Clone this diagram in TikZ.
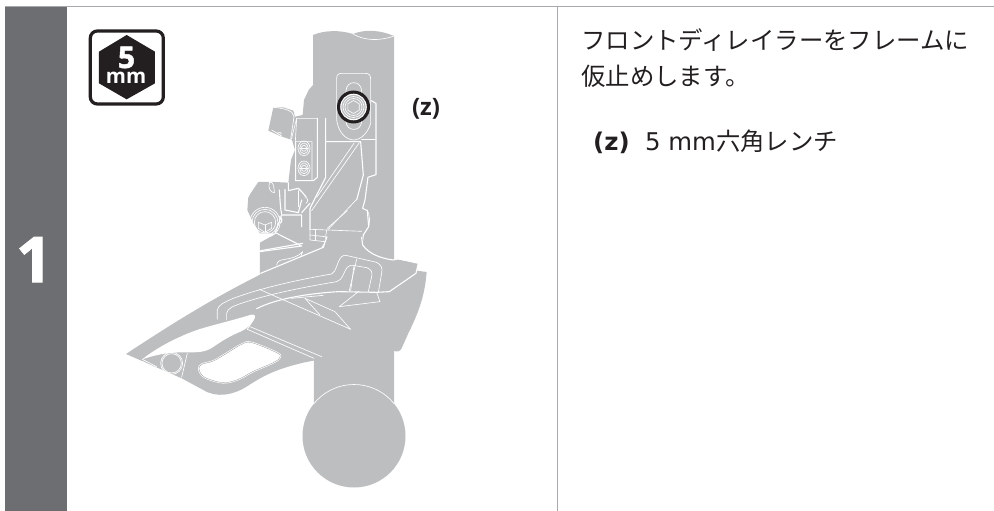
\documentclass[tikz,border=0pt]{standalone}
\usepackage{fontspec}
\setmainfont{DejaVu Sans}
\newfontfamily\cjkf{Noto Sans CJK JP}
\newfontfamily\labelf{Open Sans}
\newfontfamily\numf[BoldFeatures={FakeBold=1.6}]{Open Sans}
\definecolor{part}{HTML}{BCBEC0}
\definecolor{bar}{HTML}{6D6E71}
\definecolor{ink}{HTML}{231F20}
\definecolor{rule}{HTML}{A7A9AC}
\tikzset{
  px/.style={x=1pt,y=-1pt},
  hair/.style={draw=white,line width=0.65pt,line join=round,line cap=round},
  edge/.style={draw=white,line width=1.1pt,line join=round,line cap=round},
  body text/.style={anchor=base west,inner sep=0pt,text=ink,font=\fontsize{24.4}{28}\selectfont},
}
\begin{document}
\begin{tikzpicture}[px]
\useasboundingbox (0,0) rectangle (994,511);
% frame
\fill[bar] (5,7) rectangle (67,511);
\draw[rule,line width=1pt] (5,7) -- (994,7);
\draw[rule,line width=1pt] (557,7) -- (557,511);
\node[inner sep=0pt,anchor=base,text=white] (stepnum) at (34,282) {\fontsize{63}{63}\numf\bfseries 1};
% badge
\begin{scope}[scale=0.3333]
\draw[ink,line width=3.2pt,rounded corners=7pt,fill=white] (271,93) rectangle (490,312);
\fill[ink] (380,105) -- (465,155) -- (465,250) -- (380,298) -- (297,250) -- (297,155) -- cycle;
\end{scope}
\node[inner sep=0pt,anchor=base,text=white] (five) at (126.5,68) {\fontsize{30}{30}\numf\bfseries 5};
\node[inner sep=0pt,anchor=base,text=white] (mmunit) at (126,83.5) {\fontsize{20.5}{20.5}\labelf\bfseries mm};
% tube
\fill[part] (313,35) .. controls (325,30) and (340,30) .. (353,34) .. controls (365,29) and (380,30) .. (394,36) -- (394,404) -- (314,404) -- cycle;
\draw[hair] (353,34) .. controls (365,41) and (380,41) .. (394,36);
\fill[part] (354,436) circle (51.5);
\begin{scope}
\clip (314,380) rectangle (394,420);
\draw[hair] (354,436) circle (51.5);
\end{scope}
% clamp silhouette (coordinates of crop at 230,60)
\begin{scope}[shift={(230,60)},scale=0.3333]
\fill[part] (255,68) -- (236,90) -- (222,120) -- (218,165) -- (195,170) -- (190,152) -- (160,142) -- (130,142) -- (115,212) -- (150,228) -- (186,240)
  -- (195,270) -- (183,300) -- (175,368) -- (135,366) -- (85,366) -- (55,410) -- (52,450) -- (70,490) -- (90,520) -- (140,520) -- (90,548) -- (90,660) -- (300,660) -- (300,68) -- cycle;
% slot plate
\draw[hair] (320,55) .. controls (320,45) and (325,40) .. (335,40) -- (405,40) .. controls (418,40) and (422,45) .. (422,58) -- (422,190) .. controls (415,215) and (395,240) .. (370,240) .. controls (345,238) and (325,215) .. (320,180) -- cycle;
\draw[hair] (348,92) .. controls (350,60) and (393,60) .. (395,92) -- (395,185) .. controls (393,216) and (350,216) .. (348,185) -- cycle;
% bracket right edge
\draw[edge] (424,122) -- (438,130) -- (438,344) -- (414,352) -- (405,420) -- (398,445) -- (412,452) -- (416,500) -- (400,525) -- (396,560) -- (412,590);
\draw[hair] (395,238) -- (438,238);
\draw[hair] (412,450) .. controls (420,465) and (420,490) .. (416,500);
% diagonal block
\draw[edge] (287,175) -- (287,245) -- (392,245) -- (398,320) -- (400,345) -- (380,420);
\draw[edge] (262,175) -- (262,352) -- (250,362) -- (197,362) -- (197,245);
\draw[hair] (262,175) -- (200,175) -- (184,238);
\draw[hair] (200,175) -- (196,245) -- (246,245) -- (246,362);
\draw[edge] (287,245) -- (287,352) -- (240,445) -- (240,508);
\draw[hair] (388,248) -- (245,452);
\draw[hair] (372,250) -- (260,412);
\draw[hair] (380,418) -- (295,508);
\draw[hair] (352,452) -- (292,505);
\draw[hair] (240,508) -- (395,514);
\draw[hair] (240,525) -- (285,530);
\draw[hair] (255,510) -- (255,540);
\draw[hair] (240,508) -- (240,540) -- (285,545) -- (290,510);
\draw[edge] (287,545) -- (272,570) -- (230,590);
% screws on carrier
\foreach \yy in {265,325}{
  \draw[hair] (222,\yy) ellipse (18 and 22);
  \draw[hair] (222,\yy) ellipse (13 and 16);
  \draw[hair] (222,\yy) ellipse (8 and 9);
  \draw[hair] (210,\yy) -- (234,\yy);
}
% roller
\draw[hair] (130,142) .. controls (160,145) and (190,150) .. (192,170);
\draw[hair] (125,210) -- (155,228);
\draw[hair] (192,170) -- (182,238);
\draw[draw=white,line width=.5pt] (148,220) ellipse (6 and 3);
% linkage lower
\draw[edge] (175,368) -- (175,392) -- (205,385) -- (215,395) -- (228,410);
\draw[edge] (165,388) -- (165,450) -- (205,458) -- (215,420);
\draw[hair] (205,392) -- (205,440);
\draw[hair] (225,410) .. controls (235,415) and (235,425) .. (228,430);
\draw[edge] (215,458) -- (240,430);
\draw[hair] (118,368) .. controls (128,360) and (133,380) .. (133,398);
\draw[hair] (118,368) .. controls (114,385) and (122,398) .. (133,398);
\draw[edge] (148,390) .. controls (150,410) and (150,440) .. (155,462);
\draw[hair] (75,368) -- (55,410);
\draw[edge] (140,520) -- (215,558) -- (90,575);
\draw[edge] (135,520) -- (155,465) -- (215,465) -- (215,500);
% lower bolt
\draw[hair] (105,487) circle (45);
\draw[hair] (105,487) circle (39);
\draw[hair] (105,487) circle (32);
\draw[hair] (105,495) -- (125,487) -- (125,505) -- (105,517) -- (85,505) -- (85,487) -- cycle;
\draw[hair] (105,495) -- (105,517);
\draw[edge] (148,470) .. controls (158,475) and (158,485) .. (150,490);
\end{scope}
% derailleur (coordinates of crop at 110,230)
\begin{scope}[shift={(110,230)},scale=0.3333]
\fill[part] (48,372) .. controls (180,285) and (330,190) .. (500,110) -- (640,50) -- (650,15) -- (755,15) -- (770,60) -- (820,85) -- (860,88) -- (925,100) -- (920,122) -- (950,126)
  .. controls (945,190) and (930,240) .. (895,310) -- (875,355) .. controls (870,365) and (860,367) .. (850,362) -- (775,328) .. controls (765,325) and (757,328) .. (750,340) -- (735,370) .. controls (730,378) and (725,380) .. (715,380)
  .. controls (660,382) and (620,390) .. (580,398) .. controls (510,415) and (470,430) .. (410,470) .. controls (370,495) and (320,505) .. (280,480) -- (215,445) -- cycle;
% white lens
\fill[white] (97,388) .. controls (130,360) and (200,320) .. (270,297) .. controls (320,282) and (380,268) .. (420,255) .. controls (432,252) and (437,255) .. (434,263) .. controls (425,285) and (410,298) .. (380,310) .. controls (340,328) and (320,345) .. (300,357) .. controls (270,372) and (240,365) .. (190,368) .. controls (160,370) and (125,378) .. (97,388) -- cycle;
% top edges
\draw[edge] (452,130) -- (640,52) -- (651,20);
\draw[edge] (755,22) -- (758,45) .. controls (775,70) and (810,85) .. (850,90) -- (865,86) -- (925,100) -- (918,130) -- (838,185) -- (800,187);
% arm channels
\draw[hair] (322,268) -- (322,240) .. controls (325,225) and (340,218) .. (370,205) .. controls (450,175) and (560,150) .. (665,132) .. controls (680,125) and (680,95) .. (695,80) .. controls (700,75) and (705,75) .. (712,77) -- (800,97) .. controls (815,105) and (818,115) .. (815,130) -- (805,188);
\draw[hair] (350,270) -- (350,250) .. controls (352,235) and (370,228) .. (400,218) .. controls (470,195) and (560,175) .. (680,155) .. controls (700,150) and (700,125) .. (712,112) .. controls (716,105) and (725,105) .. (735,107) -- (770,113) .. controls (785,118) and (788,128) .. (785,140) -- (775,185);
\draw[edge] (440,236) .. controls (500,205) and (600,190) .. (685,185) -- (800,187);
\draw[hair] (740,88) -- (718,182);
\draw[hair] (732,108) -- (722,182);
% triangle
\draw[hair] (745,185) -- (688,230) -- (810,215) -- (800,187);
% crossing diagonals
\draw[hair] (448,178) -- (722,298) -- (675,245) -- (585,205);
\draw[hair] (585,205) -- (630,255);
\draw[hair] (545,205) -- (640,196);
% small lug
\draw[hair] (500,105) .. controls (502,92) and (512,90) .. (525,88) .. controls (545,85) and (565,80) .. (578,65) -- (572,80);
\draw[edge] (452,62) -- (578,40);
% lower plate
\draw[hair] (420,290) -- (635,380);
\draw[hair] (412,298) -- (612,385);
\draw[hair] (434,263) -- (412,298);
\draw[hair] (232,370) -- (215,442);
\draw[hair] (97,388) -- (140,410);
\draw[hair] (97,394) -- (138,418);
\draw[hair] (185,400) circle (33);
\draw[hair] (185,400) circle (29);
% window
\path[fill=white,draw=white,line width=1.8pt] plot[smooth cycle,tension=.6] coordinates {(267,415) (275,403) (310,393) (350,370) (395,343) (425,338) (500,368) (510,382) (490,398) (430,424) (385,448) (340,458) (290,445) (272,430)};
\draw[part!70!black,line width=0.25pt] plot[smooth cycle,tension=.6] coordinates {(267,415) (275,403) (310,393) (350,370) (395,343) (425,338) (500,368) (510,382) (490,398) (430,424) (385,448) (340,458) (290,445) (272,430)};
\end{scope}
% main bolt
\fill[ink] (353.5,107) circle (16.5);
\fill[white] (353.5,107) circle (13.3);
\fill[part] (353.5,107) circle (12.2);
\draw[white,line width=.6pt] (353.5,107) circle (10.5);
\draw[white,line width=.6pt] (353.5,107) circle (8.5);
\draw[white,line width=.6pt] (353.5,100.5) -- (359.2,103.8) -- (359.2,110.2) -- (353.5,113.5) -- (347.8,110.2) -- (347.8,103.8) -- cycle;
% labels
\node[inner sep=0pt,anchor=base,text=ink] (zlabel) at (426,115) {\fontsize{24}{26}\labelf\bfseries (z)};
\node[body text] (line one) at (581,50) {\cjkf フロントディレイラーをフレームに};
\node[body text] (line two) at (581,86) {\cjkf 仮止めします。};
\node[body text] (item z) at (593,150) {\bfseries (z)};
\node[body text] (item text) at (645,150) {5 mm\cjkf 六角レンチ};
\end{tikzpicture}
\end{document}
